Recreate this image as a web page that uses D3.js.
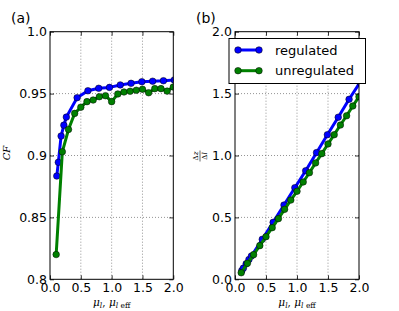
<!DOCTYPE html>
<html><head><meta charset="utf-8">
<script src="https://cdn.jsdelivr.net/npm/d3@7"></script>
<style>body{margin:0;background:#fff}svg{display:block}</style>
</head><body>
<svg id="c" width="399" height="311"></svg>
<script>
// ---- data ----
const regX = [0.11, 0.135, 0.18, 0.225, 0.265, 0.44, 0.615, 0.79, 0.965, 1.14, 1.315, 1.49, 1.665, 1.84, 2.015];
const unregX = [0.1, 0.2, 0.3, 0.4, 0.5, 0.6, 0.7, 0.8, 0.9, 1.0, 1.1, 1.2, 1.3, 1.4, 1.5, 1.6, 1.7, 1.8, 1.9, 2.0];
const cfReg = [0.8834, 0.8945, 0.9157, 0.9245, 0.931, 0.9467, 0.9523, 0.9543, 0.955, 0.957, 0.9583, 0.9596, 0.960, 0.9604, 0.961];
const cfUnreg = [0.82, 0.903, 0.921, 0.934, 0.939, 0.9435, 0.9448, 0.9475, 0.9483, 0.9435, 0.9497, 0.9513, 0.9519, 0.9527, 0.9535, 0.9507, 0.954, 0.954, 0.952, 0.9553];
const dzReg = [0.07, 0.09, 0.125, 0.16, 0.188, 0.323, 0.46, 0.60, 0.74, 0.877, 1.023, 1.168, 1.309, 1.454, 1.59];
const dzUnreg = [0.053, 0.129, 0.199, 0.272, 0.344, 0.417, 0.49, 0.565, 0.64, 0.711, 0.786, 0.861, 0.94, 1.015, 1.093, 1.168, 1.246, 1.321, 1.40, 1.475];
const xTicks = [0, 0.5, 1.0, 1.5, 2.0];
const xTickLabels = ["0.0", "0.5", "1.0", "1.5", "2.0"];
const yTicksA = [0.8, 0.85, 0.9, 0.95, 1.0];
const yTickLabelsA = ["0.8", "0.85", "0.9", "0.95", "1.0"];
const yTicksB = [0, 0.5, 1.0, 1.5, 2.0];
const yTickLabelsB = ["0.0", "0.5", "1.0", "1.5", "2.0"];
const seriesNames = ["regulated", "unregulated"];
const colors = ["#0000ff", "#008000"];

const svg = d3.select("#c");
const plotTop = 31.7, plotBottom = 279.3;

function panel(id, x0, x1, yDomain, yTicks, yLabels, series, letter, letterX) {
  const x = d3.scaleLinear().domain([0, 2]).range([x0, x1]);
  const y = d3.scaleLinear().domain(yDomain).range([plotBottom, plotTop]);
  const g = svg.append("g");
  g.append("clipPath").attr("id", "clip" + id).append("rect")
    .attr("x", x0).attr("y", plotTop).attr("width", x1 - x0).attr("height", plotBottom - plotTop);
  // grid
  const grid = g.append("g").attr("stroke", "#000").attr("stroke-width", 0.6).attr("stroke-dasharray", "1,2").attr("opacity", 0.7);
  xTicks.slice(1, -1).forEach(t => grid.append("line").attr("x1", x(t)).attr("x2", x(t)).attr("y1", plotTop).attr("y2", plotBottom));
  yTicks.slice(1, -1).forEach(t => grid.append("line").attr("x1", x0).attr("x2", x1).attr("y1", y(t)).attr("y2", y(t)));
  // series
  const pl = g.append("g").attr("clip-path", `url(#clip${id})`);
  series.forEach((s, i) => {
    const pts = s.xs.map((v, k) => [v, s.ys[k]]);
    pl.append("path").datum(pts)
      .attr("d", d3.line().x(d => x(d[0])).y(d => y(d[1])))
      .attr("fill", "none").attr("stroke", colors[i]).attr("stroke-width", 3).attr("stroke-linejoin", "round");
    pl.selectAll(null).data(pts).enter().append("circle")
      .attr("cx", d => x(d[0])).attr("cy", d => y(d[1])).attr("r", 3.3)
      .attr("fill", colors[i]).attr("stroke", "#000").attr("stroke-width", 0.5);
  });
  // axes
  const ax = d3.axisBottom(x).tickValues(xTicks).tickFormat((d, i) => xTickLabels[i]).tickSize(-4).tickPadding(4);
  const axTop = d3.axisTop(x).tickValues(xTicks).tickFormat("").tickSize(-4);
  const ay = d3.axisLeft(y).tickValues(yTicks).tickFormat((d, i) => yLabels[i]).tickSize(-4).tickPadding(3);
  const ayR = d3.axisRight(y).tickValues(yTicks).tickFormat("").tickSize(-4);
  [[ax, `translate(0,${plotBottom})`], [axTop, `translate(0,${plotTop})`], [ay, `translate(${x0},0)`], [ayR, `translate(${x1},0)`]].forEach(([a, tr]) => {
    const gg = g.append("g").attr("transform", tr).call(a);
    gg.select(".domain").remove();
    gg.selectAll("line").attr("stroke", "#000").attr("stroke-width", 0.8);
    gg.selectAll("text").attr("font-family", "DejaVu Sans").attr("font-size", 12.5).attr("fill", "#000");
  });
  g.append("rect").attr("x", x0).attr("y", plotTop).attr("width", x1 - x0).attr("height", plotBottom - plotTop)
    .attr("fill", "none").attr("stroke", "#000").attr("stroke-width", 1);
  g.append("text").attr("x", letterX).attr("y", 23).attr("font-family", "DejaVu Sans").attr("font-size", 14).text(letter);
  // x label
  const xl = g.append("text").attr("x", (x0 + x1) / 2).attr("y", 306).attr("text-anchor", "middle")
    .attr("font-family", "DejaVu Serif").attr("font-size", 10.5).attr("fill", "#000");
  xl.append("tspan").attr("font-style", "italic").text("μ");
  xl.append("tspan").attr("font-style", "italic").attr("font-size", 7.5).attr("dy", 2).text("l");
  xl.append("tspan").attr("dy", -2).text(", ");
  xl.append("tspan").attr("font-style", "italic").text("μ");
  xl.append("tspan").attr("font-size", 7.5).attr("dy", 2).attr("font-style", "italic").text("l");
  xl.append("tspan").attr("font-size", 7.5).text(" eff");
  return {x, y, g};
}

const pa = panel("a", 50, 173.3, [0.8, 1.0], yTicksA, yTickLabelsA,
  [{xs: regX, ys: cfReg}, {xs: unregX, ys: cfUnreg}], "(a)", 11);
const pb = panel("b", 235, 359, [0, 2.0], yTicksB, yTickLabelsB,
  [{xs: regX, ys: dzReg}, {xs: unregX, ys: dzUnreg}], "(b)", 196);

// y label a: CF
svg.append("text").attr("transform", "translate(10,153) rotate(-90)").attr("text-anchor", "middle")
  .attr("font-family", "DejaVu Serif").attr("font-style", "italic").attr("font-size", 10).text("CF");
// y label b: Δz/Δl fraction rotated
const fb = svg.append("g").attr("transform", "translate(200,156) rotate(-90)").attr("font-family", "DejaVu Serif").attr("font-size", 7);
fb.append("text").attr("x", 0).attr("y", -2).attr("text-anchor", "middle").text("Δ").append("tspan").attr("font-style", "italic").text("z");
fb.append("line").attr("x1", -5.5).attr("x2", 5.5).attr("y1", 0).attr("y2", 0).attr("stroke", "#000").attr("stroke-width", 0.6);
fb.append("text").attr("x", 0).attr("y", 6.5).attr("text-anchor", "middle").text("Δ").append("tspan").attr("font-style", "italic").text("l");

// legend
const lg = svg.append("g");
lg.append("rect").attr("x", 229).attr("y", 38.5).attr("width", 136.5).attr("height", 45)
  .attr("fill", "#fff").attr("stroke", "#000").attr("stroke-width", 1);
seriesNames.forEach((n, i) => {
  const yy = 50 + i * 20.7;
  lg.append("line").attr("x1", 238).attr("x2", 259).attr("y1", yy).attr("y2", yy).attr("stroke", colors[i]).attr("stroke-width", 3);
  [238, 259].forEach(cx => lg.append("circle").attr("cx", cx).attr("cy", yy).attr("r", 3.3).attr("fill", colors[i]).attr("stroke", "#000").attr("stroke-width", 0.5));
  lg.append("text").attr("x", 275).attr("y", yy + 4.5).attr("font-family", "DejaVu Sans").attr("font-size", 13).text(n);
});
</script>
</body></html>
